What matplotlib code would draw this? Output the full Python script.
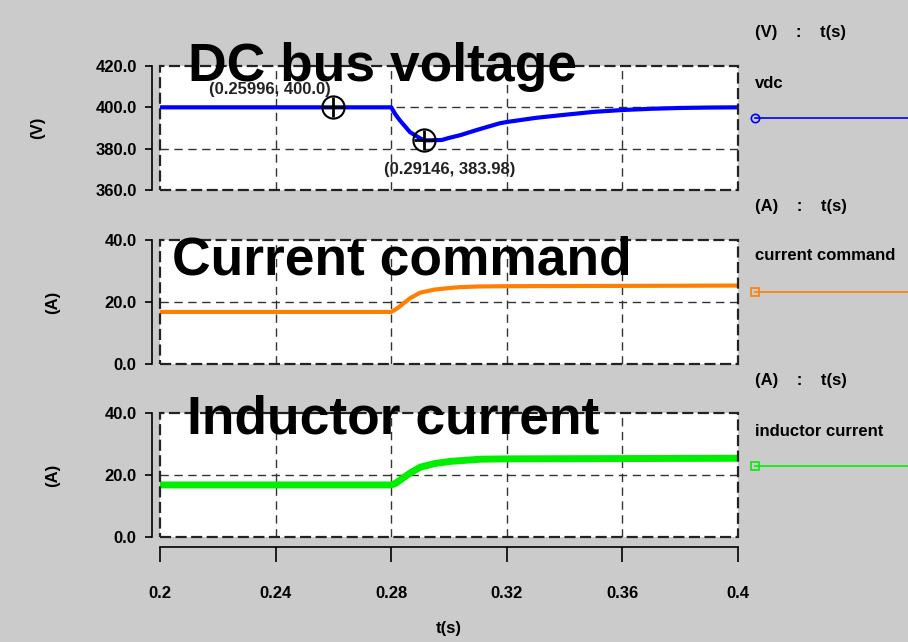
import matplotlib.pyplot as plt
from matplotlib.patches import Rectangle
from matplotlib.lines import Line2D

t_vdc = [0.2, 0.28, 0.2815, 0.283, 0.2865, 0.29, 0.29146, 0.2975, 0.30, 0.3038, 0.31, 0.3176,
         0.32, 0.33, 0.338, 0.35, 0.36, 0.37, 0.38, 0.39, 0.4]
vdc = [400.0, 400.0, 396.5, 393.7, 388.0, 385.0, 383.98, 384.2, 385.2, 386.5, 389.2, 392.3,
       392.9, 394.9, 396.1, 397.8, 398.7, 399.3, 399.7, 399.9, 400.0]

t_cmd = [0.2, 0.28, 0.2815, 0.283, 0.2865, 0.29, 0.295, 0.30, 0.3038, 0.31, 0.32, 0.4]
i_cmd = [16.8, 16.8, 17.6, 18.6, 21.2, 23.0, 24.0, 24.5, 24.8, 25.0, 25.1, 25.3]

t_ind = [0.2, 0.28, 0.2815, 0.283, 0.2865, 0.29, 0.295, 0.3005, 0.311, 0.32, 0.4]
i_ind = [16.8, 16.8, 17.3, 18.3, 20.6, 22.5, 23.7, 24.4, 25.1, 25.2, 25.4]

x_ticks = [0.2, 0.24, 0.28, 0.32, 0.36, 0.4]
x_ticklabels = ['0.2', '0.24', '0.28', '0.32', '0.36', '0.4']

cursors = [(0.25996, 400.0), (0.29146, 383.98)]

panels = [
    dict(t=t_vdc, y=vdc, ylim=(360, 420), yticks=[360, 380, 400, 420], color='#0000ff', lw=3,
         unit='(V)', name='vdc', title='DC bus voltage', marker='o'),
    dict(t=t_cmd, y=i_cmd, ylim=(0, 40), yticks=[0, 20, 40], color='#ff8000', lw=3,
         unit='(A)', name='current command', title='Current command', marker='s'),
    dict(t=t_ind, y=i_ind, ylim=(0, 40), yticks=[0, 20, 40], color='#00ee00', lw=5,
         unit='(A)', name='inductor current', title='Inductor current', marker='s'),
]

W, H = 908, 642
PX = 72 / 100  # points per pixel at dpi 100
FS = 12
plt.rcParams['font.family'] = ['Liberation Sans', 'DejaVu Sans']
plt.rcParams['font.weight'] = 'bold'
fig = plt.figure(figsize=(W / 100, H / 100), dpi=100, facecolor='#cbcbcb')

# (top, bottom) pixel rows of each plot area
rows = [(66, 190), (240, 364), (413, 537)]
title_pos = [(188, 67), (172, 260), (187, 420)]
ylabel_x = [38, 53, 53]
legend_y = [(33, 83, 118), (207, 255, 292), (381, 431, 466)]
x0, x1 = 160, 738

for k, p in enumerate(panels):
    top, bot = rows[k]
    ax = fig.add_axes([x0 / W, 1 - bot / H, (x1 - x0) / W, (bot - top) / H])
    ax.set_facecolor('white')
    for s in ['top', 'right', 'bottom']:
        ax.spines[s].set_visible(False)
    ax.spines['left'].set_position(('outward', 8 * PX))
    ax.spines['left'].set_linewidth(1.2)
    if k == 2:
        ax.spines['bottom'].set_visible(True)
        ax.spines['bottom'].set_position(('outward', 10 * PX))
        ax.spines['bottom'].set_linewidth(1.2)

    ax.plot(p['t'], p['y'], color=p['color'], lw=p['lw'], solid_capstyle='butt', zorder=3)
    ax.set_xlim(0.2, 0.4)
    ax.set_ylim(*p['ylim'])
    ax.set_yticks(p['yticks'])
    ax.set_yticklabels(['%.1f' % v for v in p['yticks']], fontsize=FS, fontweight='bold')
    ax.tick_params(axis='y', direction='out', length=7 * PX, width=1.2, pad=6)
    ax.add_patch(Rectangle((0, 0), 1, 1, transform=ax.transAxes, fill=False,
                           ec='#222222', lw=1.6, ls=(0, (5, 2)), zorder=4, clip_on=False))
    for xv in x_ticks[1:-1]:
        ax.axvline(xv, color='#333333', lw=1, ls=(0, (6, 4)), zorder=1)
    for yv in p['yticks'][1:-1]:
        ax.axhline(yv, color='#333333', lw=1, ls=(0, (6, 4)), zorder=1)

    if k == 2:
        ax.set_xticks(x_ticks)
        ax.set_xticklabels(x_ticklabels, fontsize=FS, fontweight='bold')
        ax.tick_params(axis='x', direction='out', length=15 * PX, width=1.2, pad=24 * PX)
        ax.set_xlabel('t(s)', fontsize=FS, fontweight='bold', labelpad=20 * PX)
    else:
        ax.set_xticks([])

    if k == 0:
        for cx, cy in cursors:
            ax.plot(cx, cy, 'o', ms=16, mfc='none', mec='black', mew=1.5, zorder=5)
            ax.plot(cx, cy, '+', ms=14, mec='black', mew=2, zorder=5)
        ax.annotate('(0.25996, 400.0)', xy=cursors[0], xytext=(-63, 18),
                    textcoords='offset pixels', ha='center', va='center',
                    fontsize=FS, fontweight='bold', color='#222222', zorder=5)
        ax.annotate('(0.29146, 383.98)', xy=cursors[1], xytext=(25, -29),
                    textcoords='offset pixels', ha='center', va='center',
                    fontsize=FS, fontweight='bold', color='#222222', zorder=5)

    # big overlay title
    tx, ty = title_pos[k]
    fig.text(tx / W, 1 - ty / H, p['title'], fontsize=38.4, fontweight='bold',
             ha='left', va='center', zorder=10)

    # y unit label
    fig.text(ylabel_x[k] / W, 1 - (top + bot) / 2 / H, p['unit'], rotation=90,
             fontsize=FS, fontweight='bold', ha='center', va='center')

    # right-hand legend
    ly0, ly1, ly2 = legend_y[k]
    fig.text(755 / W, 1 - ly0 / H, p['unit'] + '    :    t(s)', fontsize=FS,
             fontweight='bold', ha='left', va='center')
    fig.text(755 / W, 1 - ly1 / H, p['name'], fontsize=FS, fontweight='bold',
             ha='left', va='center')
    fig.add_artist(Line2D([755 / W, 1.0], [1 - ly2 / H, 1 - ly2 / H], color=p['color'],
                          lw=1.2, transform=fig.transFigure))
    fig.add_artist(Line2D([755 / W], [1 - ly2 / H], marker=p['marker'], ms=6, mfc='none',
                          mec=p['color'], mew=1.2, transform=fig.transFigure))

fig.savefig('out.png', dpi=100, facecolor=fig.get_facecolor())
